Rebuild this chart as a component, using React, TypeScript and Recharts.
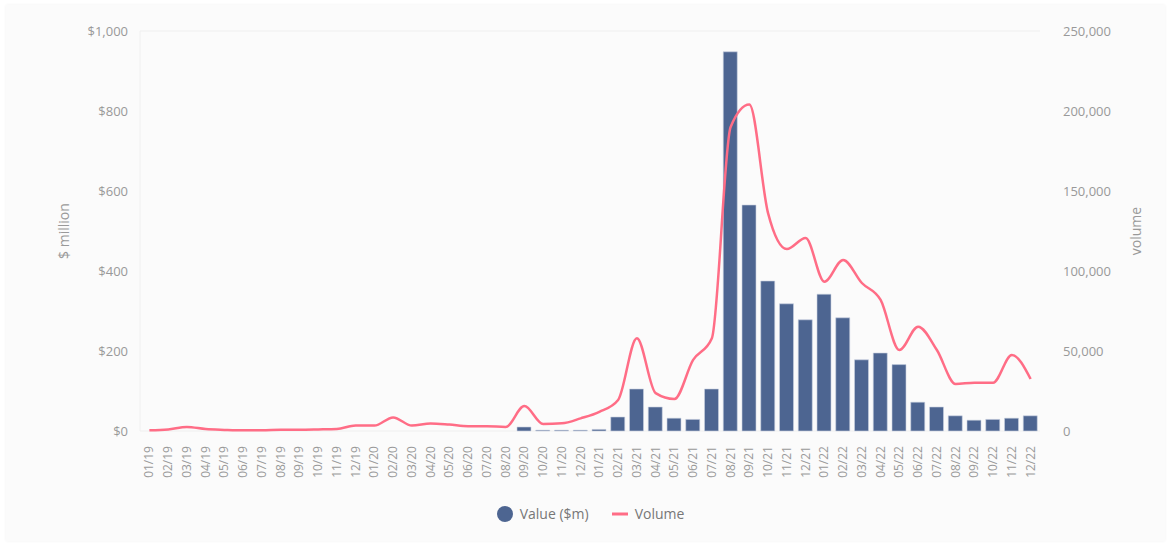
import {
  ComposedChart,
  Bar,
  Line,
  XAxis,
  YAxis,
  CartesianGrid,
  Legend,
} from 'recharts'

const months = [
  '01/19', '02/19', '03/19', '04/19', '05/19', '06/19', '07/19', '08/19', '09/19', '10/19', '11/19', '12/19',
  '01/20', '02/20', '03/20', '04/20', '05/20', '06/20', '07/20', '08/20', '09/20', '10/20', '11/20', '12/20',
  '01/21', '02/21', '03/21', '04/21', '05/21', '06/21', '07/21', '08/21', '09/21', '10/21', '11/21', '12/21',
  '01/22', '02/22', '03/22', '04/22', '05/22', '06/22', '07/22', '08/22', '09/22', '10/22', '11/22', '12/22',
]

// deal value, $ million
const valueM = [
  0, 0, 0, 0, 0, 0, 0, 0, 0, 0, 0, 0,
  0, 0, 0, 0, 0, 0, 0, 0, 10, 2, 2, 2,
  4, 35, 105, 60, 32, 29, 105, 948, 565, 375, 318, 278,
  342, 283, 178, 195, 166, 72, 60, 38, 27, 29, 32, 38,
]

// deal volume
const volume = [
  500, 1000, 2500, 1200, 700, 400, 400, 800, 800, 1000, 1300, 3400,
  3400, 8500, 3400, 4700, 4000, 3000, 3000, 2500, 15600, 4400, 4800, 7900,
  12000, 19400, 58000, 23700, 20000, 44400, 58000, 190000, 204000, 136000, 113700, 120600,
  93300, 106900, 92500, 81900, 50600, 65200, 50600, 29400, 30200, 30200, 47500, 32500,
]

const leftTicks = [0, 200, 400, 600, 800, 1000]
const rightTicks = [0, 50000, 100000, 150000, 200000, 250000]

const BAR = '#4d6591'
const LINE = '#ff6d86'
const FONT = '"Open Sans", "Noto Sans", sans-serif'

const data = months.map((m, i) => ({ month: m, value: valueM[i], volume: volume[i] }))

const MonthTick = (props: any) => {
  const { x, y, payload } = props
  return (
    <text
      x={x}
      y={y}
      transform={`rotate(-90, ${x}, ${y})`}
      textAnchor="end"
      dy={4}
      fill="#999"
      fontSize={12}
      fontFamily={FONT}
    >
      {payload.value}
    </text>
  )
}

const LegendContent = () => (
  <div
    style={{
      display: 'flex',
      justifyContent: 'center',
      alignItems: 'center',
      fontFamily: FONT,
      fontSize: 14,
      color: '#777',
      paddingLeft: 140,
      paddingRight: 131,
    }}
  >
    <svg width={18} height={18} style={{ marginRight: 6 }}>
      <circle cx={9} cy={9} r={8} fill={BAR} />
    </svg>
    <span>Value ($m)</span>
    <svg width={18} height={18} style={{ marginLeft: 22, marginRight: 6 }}>
      <line x1={1} y1={9} x2={17} y2={9} stroke={LINE} strokeWidth={3} />
    </svg>
    <span>Volume</span>
  </div>
)

export default function App() {
  return (
    <div style={{ position: 'fixed', left: 0, top: 0, width: 1171, height: 548, background: '#fff' }}>
      <div
        style={{
          position: 'absolute',
          left: 6,
          top: 5,
          width: 1159,
          height: 536,
          background: '#fbfbfb',
          boxShadow: '0 0 3px rgba(0,0,0,0.06)',
        }}
      />
      <div style={{ position: 'absolute', left: 0, top: 0 }}>
        <ComposedChart
          width={1171}
          height={548}
          data={data}
          margin={{ top: 31, right: 0, bottom: 37, left: 0 }}
          barSize={14}
        >
          <CartesianGrid vertical={false} stroke="#efefef" />
          <XAxis
            dataKey="month"
            interval={0}
            tickLine={false}
            axisLine={false}
            height={50}
            tick={<MonthTick />}
            tickMargin={9}
          />
          <YAxis
            yAxisId="left"
            width={140}
            domain={[0, 1000]}
            ticks={leftTicks}
            tickFormatter={(v: number) => `$${v.toLocaleString('en-US')}`}
            tick={{ fill: '#999', fontSize: 13, fontFamily: FONT }}
            tickLine={false}
            axisLine={{ stroke: '#f0f0f0' }}
            tickMargin={6}
            label={{
              value: '$ million',
              angle: -90,
              position: 'insideLeft',
              offset: 64,
              fill: '#999',
              fontSize: 14,
              fontFamily: FONT,
              style: { textAnchor: 'middle' },
            }}
          />
          <YAxis
            yAxisId="right"
            orientation="right"
            width={131}
            domain={[0, 250000]}
            ticks={rightTicks}
            tickFormatter={(v: number) => v.toLocaleString('en-US')}
            tick={{ fill: '#999', fontSize: 13, fontFamily: FONT }}
            tickLine={false}
            axisLine={false}
            tickMargin={17}
            label={{
              value: 'volume',
              angle: -90,
              position: 'insideRight',
              offset: 35,
              fill: '#999',
              fontSize: 14,
              fontFamily: FONT,
              style: { textAnchor: 'middle' },
            }}
          />
          <Legend verticalAlign="bottom" height={30} wrapperStyle={{ bottom: 14 }} content={<LegendContent />} />
          <Bar
            yAxisId="left"
            dataKey="value"
            name="Value ($m)"
            fill={BAR}
            stroke="#c9d1e0"
            strokeWidth={0.6}
            isAnimationActive={false}
          />
          <Line
            yAxisId="right"
            dataKey="volume"
            name="Volume"
            type="monotone"
            stroke={LINE}
            strokeWidth={2.5}
            dot={false}
            activeDot={false}
            isAnimationActive={false}
          />
        </ComposedChart>
      </div>
    </div>
  )
}
